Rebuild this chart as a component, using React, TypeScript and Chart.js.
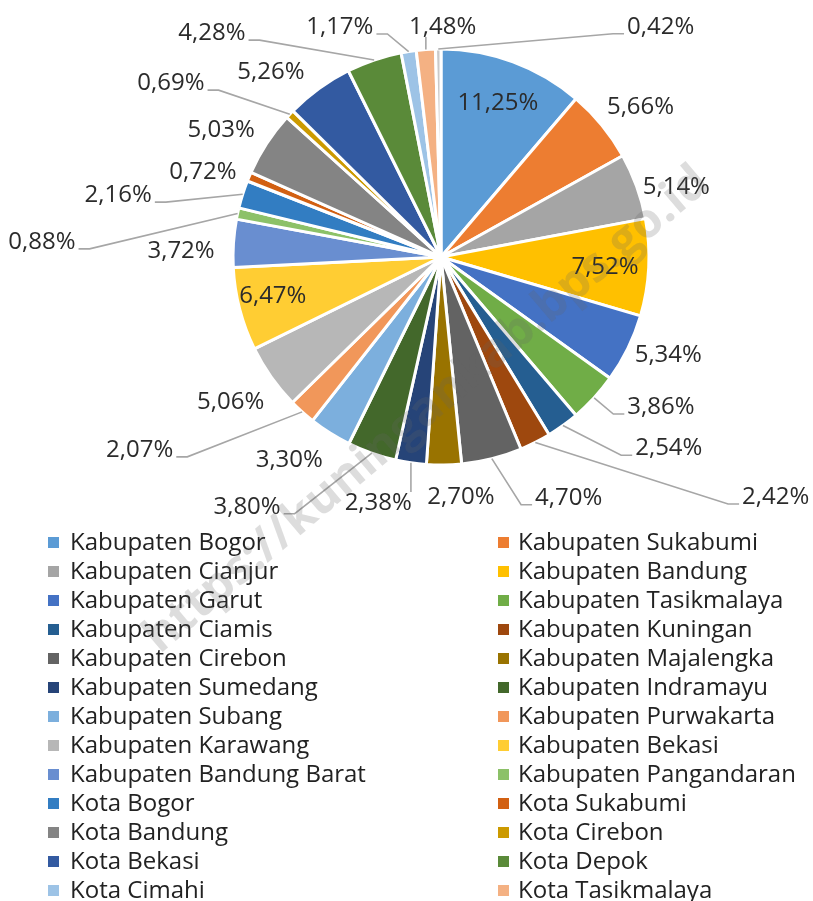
import React, { useEffect, useRef } from 'react';
import { Chart, registerables } from 'chart.js';

Chart.register(...registerables);

// ---- data ----
const REGIONS = [
  'Kabupaten Bogor', 'Kabupaten Sukabumi', 'Kabupaten Cianjur', 'Kabupaten Bandung',
  'Kabupaten Garut', 'Kabupaten Tasikmalaya', 'Kabupaten Ciamis', 'Kabupaten Kuningan',
  'Kabupaten Cirebon', 'Kabupaten Majalengka', 'Kabupaten Sumedang', 'Kabupaten Indramayu',
  'Kabupaten Subang', 'Kabupaten Purwakarta', 'Kabupaten Karawang', 'Kabupaten Bekasi',
  'Kabupaten Bandung Barat', 'Kabupaten Pangandaran', 'Kota Bogor', 'Kota Sukabumi',
  'Kota Bandung', 'Kota Cirebon', 'Kota Bekasi', 'Kota Depok',
  'Kota Cimahi', 'Kota Tasikmalaya', 'Kota Banjar',
];

const SHARES = [
  11.25, 5.66, 5.14, 7.52,
  5.34, 3.86, 2.54, 2.42,
  4.70, 2.70, 2.38, 3.80,
  3.30, 2.07, 5.06, 6.47,
  3.72, 0.88, 2.16, 0.72,
  5.03, 0.69, 5.26, 4.28,
  1.17, 1.48, 0.42,
];

const SHARE_LABELS = SHARES.map((v) => v.toFixed(2).replace('.', ',') + '%');

// ---- styles ----
const COLORS = [
  '#5B9BD5', '#ED7D31', '#A5A5A5', '#FFC000',
  '#4472C4', '#70AD47', '#255E91', '#9E480E',
  '#636363', '#997300', '#264478', '#43682B',
  '#7CAFDD', '#F1975A', '#B7B7B7', '#FFCD33',
  '#698ED0', '#8CC168', '#327DC2', '#D26012',
  '#848484', '#CC9A00', '#335AA1', '#5A8A39',
  '#9DC3E6', '#F4B183', '#C9C9C9',
];

// label placement: angle shift (deg) from slice middle, distance as share of radius, leader line
const LABEL_SHIFT = [
  0, 2.4, 3.4, 0.6,
  -2.7, -8.3, -14.1, -27.4,
  -13.8, -3.9, 6, 18.4,
  4.5, 15.5, 0.6, 1.5,
  -2.6, -9.9, -6.7, -3.1,
  -3.1, -10.6, -6.7, -26.9,
  -14.8, 4.6, 44.4,
];
const LABEL_DIST = [
  0.79, 1.2, 1.18, 0.79,
  1.19, 1.28, 1.43, 1.98,
  1.31, 1.16, 1.22, 1.52,
  1.22, 1.72, 1.23, 0.83,
  1.25, 1.92, 1.58, 1.215,
  1.22, 1.544, 1.208, 1.54,
  1.208, 1.106, 1.53,
];
const LABEL_LINE = [
  false, false, false, false,
  false, true, true, true,
  true, false, true, true,
  false, true, false, false,
  false, true, true, false,
  false, true, false, true,
  true, true, true,
];

const FONT = '"Open Sans", "Noto Sans", sans-serif';
const LABEL_SIZE = 24;
const LEGEND_SIZE = 24;

const labelPlugin = {
  id: 'pctLabels',
  afterDatasetsDraw(chart: any) {
    const ctx = chart.ctx;
    const meta = chart.getDatasetMeta(0);
    ctx.save();
    ctx.font = `${LABEL_SIZE}px ${FONT}`;
    ctx.textAlign = 'center';
    ctx.textBaseline = 'middle';
    ctx.strokeStyle = '#A6A6A6';
    ctx.lineWidth = 1.6;
    meta.data.forEach((arc: any, i: number) => {
      const { x, y, startAngle, endAngle, outerRadius } = arc.getProps(
        ['x', 'y', 'startAngle', 'endAngle', 'outerRadius'],
        true
      );
      const mid = (startAngle + endAngle) / 2;
      const a = mid + (LABEL_SHIFT[i] * Math.PI) / 180;
      const d = outerRadius * LABEL_DIST[i];
      const lx = x + Math.cos(a) * d;
      const ly = y + Math.sin(a) * d;
      const text = SHARE_LABELS[i];
      const w = ctx.measureText(text).width;
      if (LABEL_LINE[i]) {
        const sx = x + Math.cos(mid) * outerRadius;
        const sy = y + Math.sin(mid) * outerRadius;
        const left = lx - w / 2;
        const right = lx + w / 2;
        ctx.beginPath();
        ctx.moveTo(sx, sy);
        if (sx >= left && sx <= right) {
          const ty = sy < ly ? ly - 11 : ly + 10;
          ctx.lineTo(sx, ty);
        } else {
          const by = ly + 7;
          const edge = sx < left ? left - 3 : right + 3;
          const elbow = sx < left ? edge - 11 : edge + 11;
          ctx.lineTo(elbow, by);
          ctx.lineTo(edge, by);
        }
        ctx.stroke();
      }
      ctx.fillStyle = '#2B2B2B';
      ctx.fillText(text, lx, ly);
    });
    ctx.restore();
  },
};

const legendPlugin = {
  id: 'twoColLegend',
  afterDraw(chart: any) {
    const ctx = chart.ctx;
    ctx.save();
    ctx.font = `${LEGEND_SIZE}px ${FONT}`;
    ctx.textAlign = 'left';
    ctx.textBaseline = 'middle';
    const labels: string[] = chart.data.labels;
    const colors: string[] = chart.data.datasets[0].backgroundColor;
    labels.forEach((name, i) => {
      const col = i % 2;
      const row = Math.floor(i / 2);
      const cy = 542 + row * 29;
      const mx = col ? 498 : 48;
      const tx = col ? 518 : 70;
      ctx.fillStyle = colors[i];
      ctx.fillRect(mx, cy - 5, 11, 11);
      ctx.fillStyle = '#222222';
      ctx.fillText(name, tx, cy + 1);
    });
    ctx.restore();
  },
};

const watermarkPlugin = {
  id: 'watermark',
  afterDraw(chart: any) {
    const ctx = chart.ctx;
    ctx.save();
    ctx.translate(427, 410);
    ctx.rotate((-40.3 * Math.PI) / 180);
    ctx.font = `bold 42px ${FONT}`;
    ctx.textAlign = 'center';
    ctx.textBaseline = 'middle';
    const txt = 'https://kuningankab.bps.go.id';
    const w = ctx.measureText(txt).width;
    const target = 727;
    ctx.font = `bold ${Math.round((42 * target) / w)}px ${FONT}`;
    ctx.fillStyle = 'rgba(100,100,100,0.22)';
    ctx.fillText(txt, 0, 0);
    ctx.restore();
  },
};

export default function App() {
  const ref = useRef<HTMLCanvasElement | null>(null);

  useEffect(() => {
    document.body.style.margin = '0';
    document.body.style.overflow = 'hidden';
    const canvas = ref.current;
    if (!canvas) return;
    const chart = new Chart(canvas, {
      type: 'pie',
      data: {
        labels: REGIONS,
        datasets: [
          {
            data: SHARES,
            backgroundColor: COLORS,
            borderColor: '#FFFFFF',
            borderWidth: 3,
            radius: 208,
          } as any,
        ],
      },
      options: {
        responsive: false,
        animation: false,
        layout: { padding: { left: 233, right: 164, top: 49, bottom: 436 } },
        plugins: {
          legend: { display: false },
          tooltip: { enabled: false },
        },
      },
      plugins: [labelPlugin, legendPlugin, watermarkPlugin],
    });
    return () => chart.destroy();
  }, []);

  return (
    <div style={{ width: 813, height: 901, background: '#fff' }}>
      <canvas ref={ref} width={813} height={901} style={{ display: 'block' }} />
    </div>
  );
}
